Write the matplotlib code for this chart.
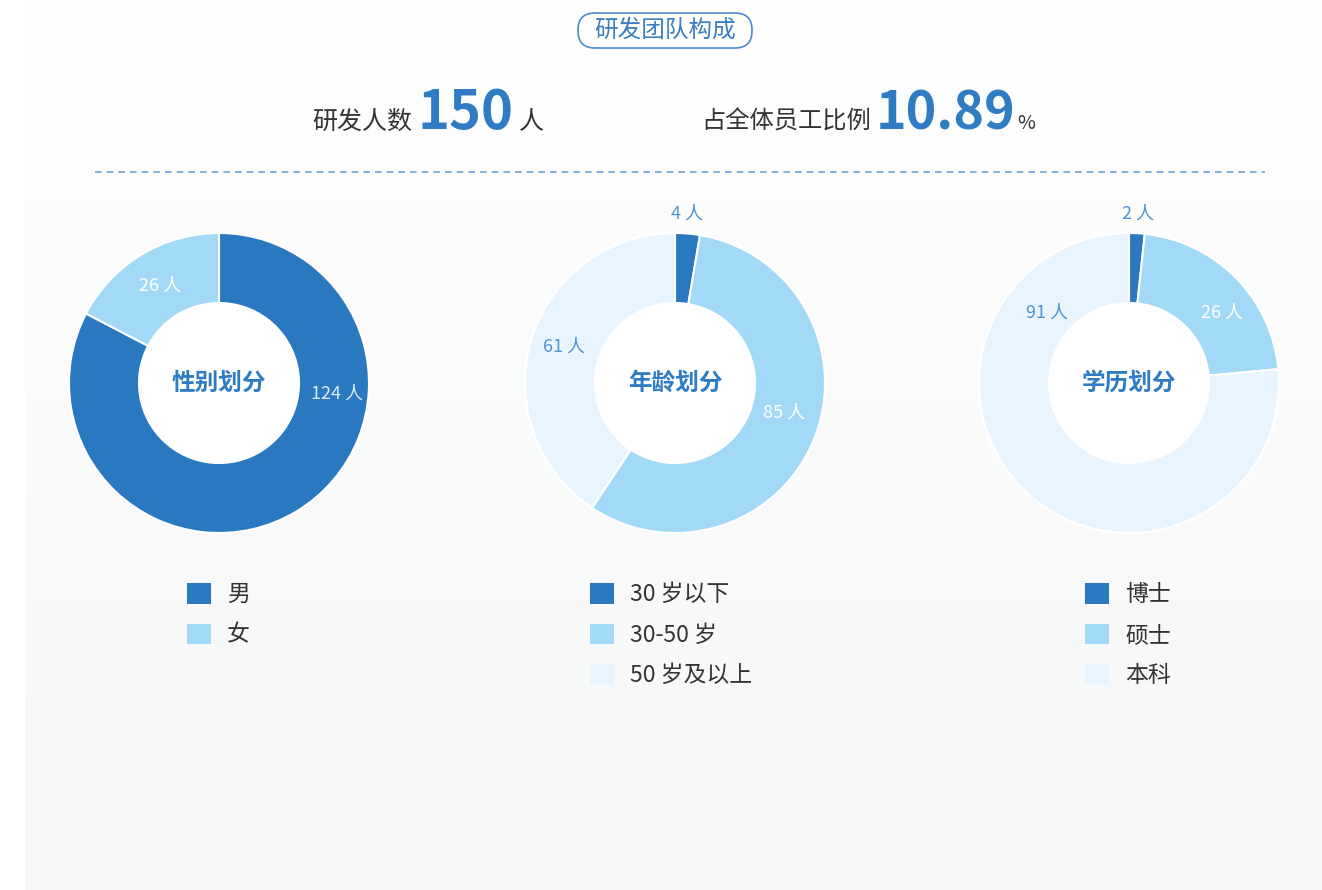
import numpy as np
import matplotlib
matplotlib.use("Agg")
import matplotlib.pyplot as plt
from matplotlib.patches import Patch, Circle, FancyBboxPatch

plt.rcParams['font.family'] = ['Noto Sans CJK SC', 'DejaVu Sans']

# 数据
gender_labels = ['男', '女']
gender_values = [124, 26]
age_labels = ['30 岁以下', '30-50 岁', '50 岁及以上']
age_values = [4, 85, 61]
edu_labels = ['博士', '硕士', '本科']
edu_values = [2, 26, 91]
rd_count = 150
rd_ratio = 10.89

W, H = 1322, 890
colors = ['#2a79c0', '#a2d9f6', '#e9f5fe']
blue = '#2f7cc4'

fig = plt.figure(figsize=(W / 100, H / 100), dpi=100)
bg = fig.add_axes([0, 0, 1, 1])
bg.axis('off')

# 背景渐变面板
grad = np.linspace(0, 1, 256).reshape(-1, 1)
cmap = matplotlib.colors.LinearSegmentedColormap.from_list('g', ['#ffffff', '#f5f6f6'])
bg.imshow(grad, cmap=cmap, extent=[25, W, H, 0], aspect='auto', zorder=0)
bg.set_xlim(0, W)
bg.set_ylim(H, 0)

# 标题
bg.add_patch(FancyBboxPatch((578, 13), 174, 35, boxstyle='round,pad=0,rounding_size=17',
                            fc='white', ec='#4a8bd0', lw=1.2, zorder=2))
bg.text(665, 30.5, '研发团队构成', fontsize=17, color='#3a7fc0', ha='center', va='center', zorder=3)

# 顶部指标
bg.text(312, 129, '研发人数', fontsize=18, color='#333333', ha='left', va='baseline')
bg.text(417, 129, f'{rd_count}', fontsize=39, color=blue, weight='bold', ha='left', va='baseline')
bg.text(519, 129, '人', fontsize=18, color='#333333', ha='left', va='baseline')
bg.text(701, 129, '占全体员工比例', fontsize=17.5, color='#333333', ha='left', va='baseline')
bg.text(876, 129, f'{rd_ratio:.2f}', fontsize=37.5, color=blue, weight='bold', ha='left', va='baseline')
bg.text(1017, 129, '%', fontsize=14, color='#333333', ha='left', va='baseline')

bg.plot([95, 1265], [172, 172], color='#6aa3d8', lw=1.2, dashes=(4, 3))

charts = [
    dict(cx=219, title='性别划分', labels=gender_labels, values=gender_values, leg_x=187,
         lab_ang=[95, 329], lab_r=[118, 114], lab_col=['#dcecf8', '#ffffff']),
    dict(cx=675, title='年龄划分', labels=age_labels, values=age_values, leg_x=590,
         lab_ang=[4, 105, 288], lab_r=[170, 113, 117], lab_col=['#4f93d2', '#ffffff', '#4f93d2']),
    dict(cx=1129, title='学历划分', labels=edu_labels, values=edu_values, leg_x=1085,
         lab_ang=[3, 53, 311], lab_r=[170, 117, 108], lab_col=['#4f93d2', '#ffffff', '#4f93d2']),
]
cy = 383
S = 400

for c in charts:
    ax = fig.add_axes([(c['cx'] - S / 2) / W, (H - cy - S / 2) / H, S / W, S / H])
    ax.axis('off')
    n = len(c['values'])
    wedges, _ = ax.pie(c['values'], colors=colors[:n], radius=150, startangle=90,
                       counterclock=False, wedgeprops=dict(width=70, edgecolor='white', linewidth=1.5))
    ax.set_xlim(-S / 2, S / 2)
    ax.set_ylim(-S / 2, S / 2)
    ax.set_aspect('equal')
    ax.add_patch(Circle((0, 0), 80, fc='white', ec='none', zorder=3))
    ax.text(0, 0, c['title'], fontsize=17, color=blue, weight='bold', ha='center', va='center', zorder=4)
    for v, a, r, col in zip(c['values'], c['lab_ang'], c['lab_r'], c['lab_col']):
        t = np.deg2rad(a)
        ax.text(r * np.sin(t), r * np.cos(t), f'{v} 人', fontsize=13, color=col,
                ha='center', va='center', zorder=5)
    handles = [Patch(fc=colors[i], ec='none') for i in range(n)]
    fig.legend(handles, c['labels'], loc='upper left',
               bbox_to_anchor=(c['leg_x'] / W, 1 - 583 / H), frameon=False,
               fontsize=16.5, handlelength=1.05, handleheight=1.0, handletextpad=0.7,
               labelspacing=0.76, borderpad=0, borderaxespad=0, labelcolor='#333333')

fig.savefig('out.png', dpi=100)
